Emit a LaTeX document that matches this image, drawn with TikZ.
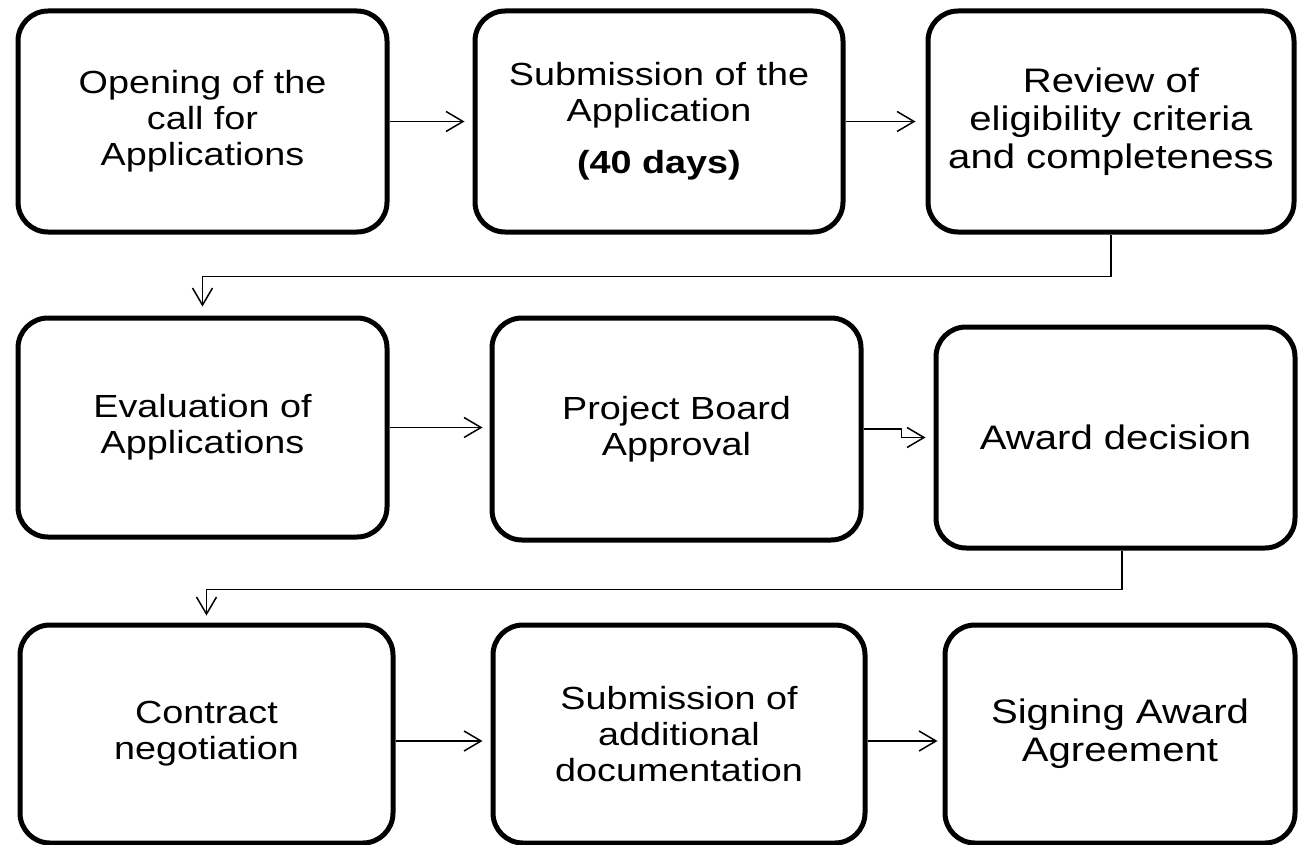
\documentclass[tikz,border=0pt]{standalone}
\usepackage{fontspec}
\setmainfont{Liberation Sans}[FakeStretch=1.18]
\usetikzlibrary{arrows.meta,calc}

\begin{document}
\begin{tikzpicture}[x=1pt,y=-1pt,
  stepbox/.style={draw=black,line width=5pt,rounded corners=30pt,align=center,
    inner sep=0pt,font=\fontsize{32}{36}\selectfont},
  bigtext/.style={font=\fontsize{34}{38}\selectfont},
  conn/.style={line width=1.5pt,-{Straight Barb[length=17pt,width=20pt]},shorten >=8pt}]
% page frame
\useasboundingbox (0,0) rectangle (1298,845);
% first row
\node[stepbox,minimum width=369pt,minimum height=221pt] (open) at (202.5,121.5) {Opening of the\\call for\\Applications};
\node[stepbox,minimum width=368pt,minimum height=221pt] (submit) at (659,121.5) {Submission of the\\Application\\[16pt]\textbf{(40 days)}};
\node[stepbox,bigtext,minimum width=366pt,minimum height=221pt] (review) at (1111,121.5) {Review of\\eligibility criteria\\and completeness};
% second row
\node[stepbox,minimum width=369pt,minimum height=219pt] (eval) at (202.5,427.5) {Evaluation of\\Applications};
\node[stepbox,minimum width=369pt,minimum height=222pt] (board) at (676.5,429) {Project Board\\Approval};
\node[stepbox,bigtext,minimum width=359pt,minimum height=221pt] (award) at (1115.5,437.5) {Award decision};
% third row
\node[stepbox,minimum width=373pt,minimum height=218pt] (contract) at (206.5,734) {Contract\\negotiation};
\node[stepbox,minimum width=372pt,minimum height=218pt] (docs) at (679,734) {Submission of\\additional\\documentation};
\node[stepbox,bigtext,minimum width=350pt,minimum height=218pt] (sign) at (1120,734) {Signing Award\\Agreement};

% arrows along the rows
\draw[conn] (open) -- (submit);
\draw[conn,shorten >=10pt] (submit) -- (review);
\draw[conn,shorten >=7pt] (eval.east) -- (eval.east -| board.west);
\draw[conn] (board.east) -- ++(38,0) |- (award.west);
\draw[conn] ([yshift=-7pt]contract.east) -- ([yshift=-7pt]docs.west);
\draw[conn,shorten >=5pt] ([yshift=-7pt]docs.east) -- ([yshift=-7pt]sign.west);
% arrows down to the next row
\coordinate (bend1) at ($(review.south)+(0,42)$);
\draw[conn,shorten >=9pt] (review.south) -- (bend1) -| (eval.north);
\coordinate (bend2) at ($(award.south)+(6.5,39)$);
\draw[conn,shorten >=7pt] ([xshift=6.5pt]award.south) -- (bend2) -| (contract.north);
\end{tikzpicture}
\end{document}
